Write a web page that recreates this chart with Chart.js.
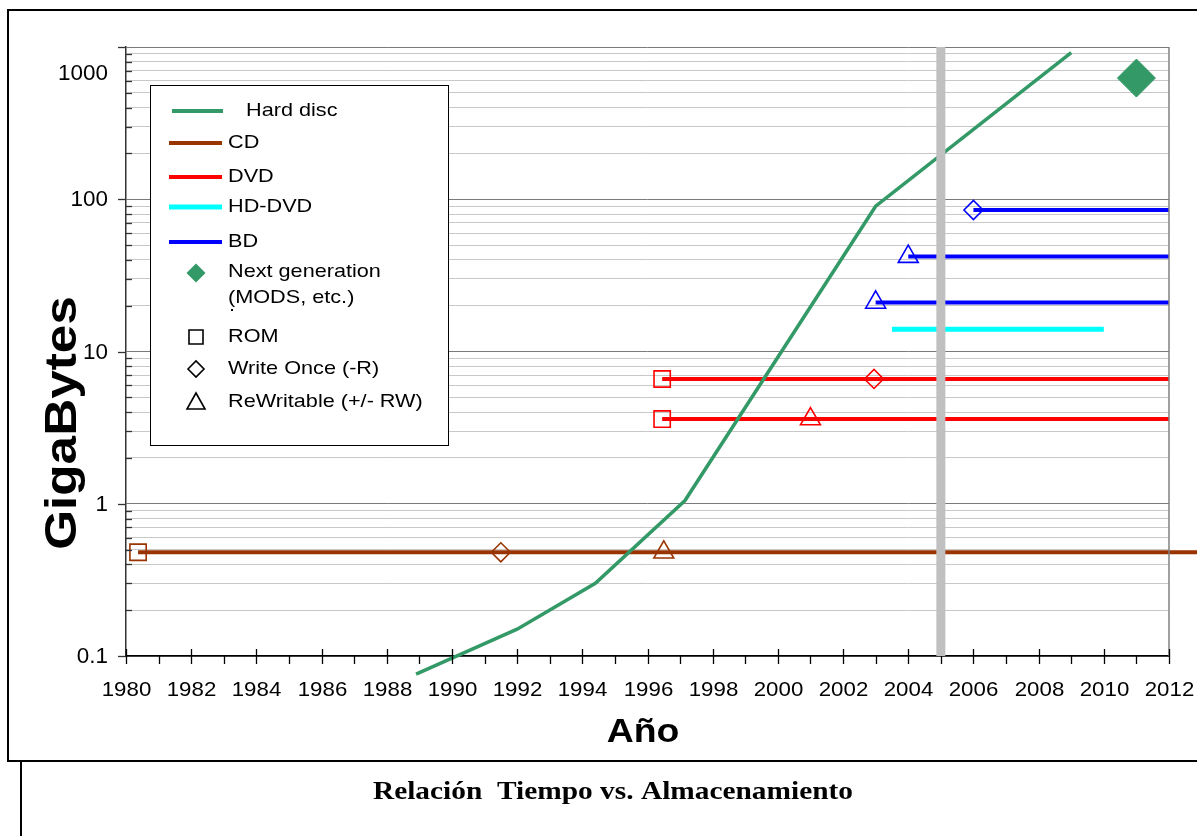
<!DOCTYPE html>
<html>
<head>
<meta charset="utf-8">
<script src="https://cdn.jsdelivr.net/npm/chart.js@4/dist/chart.umd.min.js"></script>
<style>
  body { margin: 0; background: #fff; }
  #chart { display: block; }
</style>
</head>
<body>
<canvas id="chart" width="1197" height="836"></canvas>
<script>
// values (year, gigabytes)
const hardDiscYears = [1988.9, 1992, 1994.4, 1997.15, 2003, 2009];
const hardDiscGB = [0.076, 0.15, 0.3, 1.05, 90, 920];

const cdYears = [1980.37, 1991.5, 1996.5, 2013.5];
const cdGB = [0.48, 0.48, 0.48, 0.48];
const cdMarks = ['rect', 'rectRot', 'triangle', null];

const dvdYears = [1996.45, 2002.95, 2012];
const dvdGB = [6.6, 6.6, 6.6];
const dvdMarks = ['rect', 'rectRot', null];

const dvdRwYears = [1996.45, 2001, 2012];
const dvdRwGB = [3.6, 3.6, 3.6];
const dvdRwMarks = ['rect', 'triangle', null];

const hdDvdYears = [2003.5, 2010];
const hdDvdGB = [14, 14];

const bdRYears = [2006, 2012];
const bdRGB = [85, 85];
const bdRMarks = ['rectRot', null];

const bdRw2Years = [2004, 2012];
const bdRw2GB = [42, 42];
const bdRw1Years = [2003, 2012];
const bdRw1GB = [21, 21];
const bdRwMarks = ['triangle', null];

const nextGenYears = [2011];
const nextGenGB = [625];

const todayYears = [2005, 2005];
const todayGB = [0.1, 1000];

const yTickValues = [
    0.1, 0.2, 0.3, 0.4, 0.5, 0.6, 0.7, 0.8, 0.9,
    1, 2, 3, 4, 5, 6, 7, 8, 9,
    10, 20, 30, 40, 50, 60, 70, 80, 90,
    100, 200, 300, 400, 500, 600, 700, 800, 900,
    1000
];
const yTickLabels = { 0.1: '0.1', 1: '1', 10: '10', 100: '100', 1000: '1000' };

const legendLines = [
    { text: 'Hard disc', color: '#339966', width: 4 },
    { text: 'CD', color: '#993300', width: 4 },
    { text: 'DVD', color: '#ff0000', width: 4 },
    { text: 'HD-DVD', color: '#00ffff', width: 5 },
    { text: 'BD', color: '#0000ff', width: 4 }
];

const markerRadius = { rect: 11.5, rectRot: 9.5, triangle: 11.5 };
const SANS = '"Liberation Sans", Arial, sans-serif';

const isDecade = v => yTickLabels[v] !== undefined;

function lineSet(label, years, values, color, width, marks) {
    return {
        label,
        data: years.map((x, i) => ({ x, y: values[i] })),
        borderColor: color,
        borderWidth: width,
        borderCapStyle: 'butt',
        pointStyle: marks ? marks.map(m => m || 'circle') : 'circle',
        pointRadius: marks ? marks.map(m => (m ? markerRadius[m] : 0)) : 0,
        pointBorderColor: color,
        pointBackgroundColor: 'rgba(0,0,0,0)',
        pointBorderWidth: 1.6,
        tension: 0,
        clip: false,
        order: 5
    };
}

// text in the reference is a little wider than the font, so stretch it
function stretchText(ctx, text, x, y, font, align, baseline, sx, rotate) {
    ctx.save();
    ctx.translate(x, y);
    if (rotate) ctx.rotate(-Math.PI / 2);
    ctx.scale(sx, 1);
    ctx.font = font;
    ctx.fillStyle = '#000';
    ctx.textAlign = align;
    ctx.textBaseline = baseline;
    ctx.fillText(text, 0, 0);
    ctx.restore();
}

function marker(ctx, style, x, y, r, color, fill) {
    ctx.save();
    ctx.strokeStyle = color;
    ctx.fillStyle = color;
    ctx.lineWidth = 1.6;
    ctx.beginPath();
    if (style === 'rect') {
        ctx.rect(x - r, y - r, 2 * r, 2 * r);
    } else if (style === 'rectRot') {
        ctx.moveTo(x - r, y); ctx.lineTo(x, y - r); ctx.lineTo(x + r, y); ctx.lineTo(x, y + r);
        ctx.closePath();
    } else {
        ctx.moveTo(x, y - r); ctx.lineTo(x + r * 0.9, y + r * 0.6); ctx.lineTo(x - r * 0.9, y + r * 0.6);
        ctx.closePath();
    }
    if (fill) ctx.fill(); else ctx.stroke();
    ctx.restore();
}

const framePlugin = {
    id: 'frame',
    beforeDraw(chart) {
        const ctx = chart.ctx;
        ctx.save();
        ctx.fillStyle = '#fff';
        ctx.fillRect(0, 0, chart.width, chart.height);
        ctx.strokeStyle = '#000';
        ctx.lineWidth = 2;
        ctx.strokeRect(8, 10, 1200, 751);
        ctx.beginPath();
        ctx.moveTo(21, 762);
        ctx.lineTo(21, 836);
        ctx.stroke();
        ctx.restore();
    },
    afterDraw(chart) {
        const ctx = chart.ctx;
        const { left, right, top, bottom } = chart.chartArea;
        const xs = chart.scales.x;
        const ys = chart.scales.y;
        ctx.save();

        // plot border on the right
        ctx.strokeStyle = '#808080';
        ctx.lineWidth = 1.5;
        ctx.beginPath();
        ctx.moveTo(right, top);
        ctx.lineTo(right, bottom);
        ctx.stroke();

        // y ticks and labels
        ctx.strokeStyle = '#333';
        ctx.lineWidth = 1.3;
        ys.ticks.forEach(t => {
            const py = Math.round(ys.getPixelForValue(t.value)) + 0.5;
            ctx.beginPath();
            if (isDecade(t.value)) {
                ctx.moveTo(left - 8, py); ctx.lineTo(left, py);
            } else {
                ctx.moveTo(left, py); ctx.lineTo(left + 6, py);
            }
            ctx.stroke();
            if (isDecade(t.value)) {
                stretchText(ctx, yTickLabels[t.value], 108, Math.max(py, top + 27),
                    '22px ' + SANS, 'right', 'middle', 1.02);
            }
        });

        // x ticks and labels
        ctx.strokeStyle = '#000';
        xs.ticks.forEach(t => {
            const px = Math.round(xs.getPixelForValue(t.value)) + 0.5;
            const even = t.value % 2 === 0;
            ctx.beginPath();
            ctx.moveTo(px, even ? bottom - 7 : bottom);
            ctx.lineTo(px, bottom + 8);
            ctx.stroke();
            if (even) stretchText(ctx, String(t.value), px, 690, '21px ' + SANS, 'center', 'middle', 1.06);
        });

        // axis titles and caption
        stretchText(ctx, 'GigaBytes', 76, 423, 'bold 45px ' + SANS, 'center', 'alphabetic', 1.14, true);
        stretchText(ctx, 'Año', 643, 742, 'bold 34px ' + SANS, 'center', 'alphabetic', 1.1);
        stretchText(ctx, 'Relación  Tiempo vs. Almacenamiento', 613, 799,
            'bold 26px "Liberation Serif", "Times New Roman", serif', 'center', 'alphabetic', 1.13);

        // legend box
        ctx.fillStyle = '#fff';
        ctx.fillRect(150, 85, 298, 361);
        ctx.strokeStyle = '#000';
        ctx.lineWidth = 1;
        ctx.strokeRect(150.5, 85.5, 298, 360);

        const lineY = [111, 143, 177, 207, 242];
        legendLines.forEach((item, i) => {
            const x0 = i === 0 ? 172 : 169;
            const x1 = i === 0 ? 223 : 222;
            ctx.strokeStyle = item.color;
            ctx.lineWidth = item.width;
            ctx.beginPath();
            ctx.moveTo(x0, lineY[i]);
            ctx.lineTo(x1, lineY[i]);
            ctx.stroke();
            stretchText(ctx, item.text, i === 0 ? 246 : 228, lineY[i], '19px ' + SANS, 'left', 'middle', 1.14);
        });

        marker(ctx, 'rectRot', 196, 273, 9.5, '#339966', true);
        stretchText(ctx, 'Next generation', 228, 272, '19px ' + SANS, 'left', 'middle', 1.14);
        stretchText(ctx, '(MODS, etc.)', 228, 298, '19px ' + SANS, 'left', 'middle', 1.14);
        stretchText(ctx, '.', 229, 306, '19px ' + SANS, 'left', 'middle', 1.14);

        marker(ctx, 'rect', 196, 337, 7, '#000', false);
        stretchText(ctx, 'ROM', 228, 337, '19px ' + SANS, 'left', 'middle', 1.14);
        marker(ctx, 'rectRot', 196, 369, 8, '#000', false);
        stretchText(ctx, 'Write Once (-R)', 228, 369, '19px ' + SANS, 'left', 'middle', 1.14);
        marker(ctx, 'triangle', 196, 403, 10, '#000', false);
        stretchText(ctx, 'ReWritable (+/- RW)', 228, 402, '19px ' + SANS, 'left', 'middle', 1.14);

        ctx.restore();
    }
};

const datasets = [
    lineSet('Hard disc', hardDiscYears, hardDiscGB, '#339966', 3.5),
    lineSet('CD', cdYears, cdGB, '#993300', 4, cdMarks),
    lineSet('DVD', dvdYears, dvdGB, '#ff0000', 4, dvdMarks),
    lineSet('DVD RW', dvdRwYears, dvdRwGB, '#ff0000', 4, dvdRwMarks),
    lineSet('HD-DVD', hdDvdYears, hdDvdGB, '#00ffff', 5),
    lineSet('BD -R', bdRYears, bdRGB, '#0000ff', 4, bdRMarks),
    lineSet('BD RW 2', bdRw2Years, bdRw2GB, '#0000ff', 4, bdRwMarks),
    lineSet('BD RW 1', bdRw1Years, bdRw1GB, '#0000ff', 4, bdRwMarks),
    {
        label: 'Next generation',
        data: nextGenYears.map((x, i) => ({ x, y: nextGenGB[i] })),
        showLine: false,
        pointStyle: 'rectRot',
        pointRadius: 19,
        pointBackgroundColor: '#339966',
        pointBorderColor: '#339966',
        pointBorderWidth: 1,
        order: 5
    },
    {
        label: 'Today',
        data: todayYears.map((x, i) => ({ x, y: todayGB[i] })),
        borderColor: '#c0c0c0',
        borderWidth: 9,
        borderCapStyle: 'butt',
        pointRadius: 0,
        clip: false,
        order: 0
    }
];

new Chart(document.getElementById('chart'), {
    type: 'line',
    data: { datasets },
    options: {
        responsive: false,
        animation: false,
        events: [],
        layout: { padding: { left: 0, top: 47, right: 28, bottom: 0 } },
        plugins: {
            legend: { display: false },
            tooltip: { enabled: false }
        },
        scales: {
            x: {
                type: 'linear',
                min: 1980,
                max: 2012,
                ticks: { display: false, stepSize: 1 },
                grid: { display: false, drawTicks: false },
                border: { display: true, color: '#000', width: 1.5 },
                afterFit: s => { s.height = 180; }
            },
            y: {
                type: 'logarithmic',
                min: 0.1,
                max: 1000,
                ticks: { display: false },
                afterBuildTicks: s => {
                    s.ticks = yTickValues.map(v => ({ value: v, major: isDecade(v) }));
                },
                grid: {
                    drawTicks: false,
                    color: c => (c.tick && isDecade(c.tick.value) ? '#7a7a7a' : '#c8c8c8'),
                    lineWidth: 1
                },
                border: { display: true, color: '#333', width: 1.5 },
                afterFit: s => { s.width = 126; }
            }
        }
    },
    plugins: [framePlugin]
});
</script>
</body>
</html>
